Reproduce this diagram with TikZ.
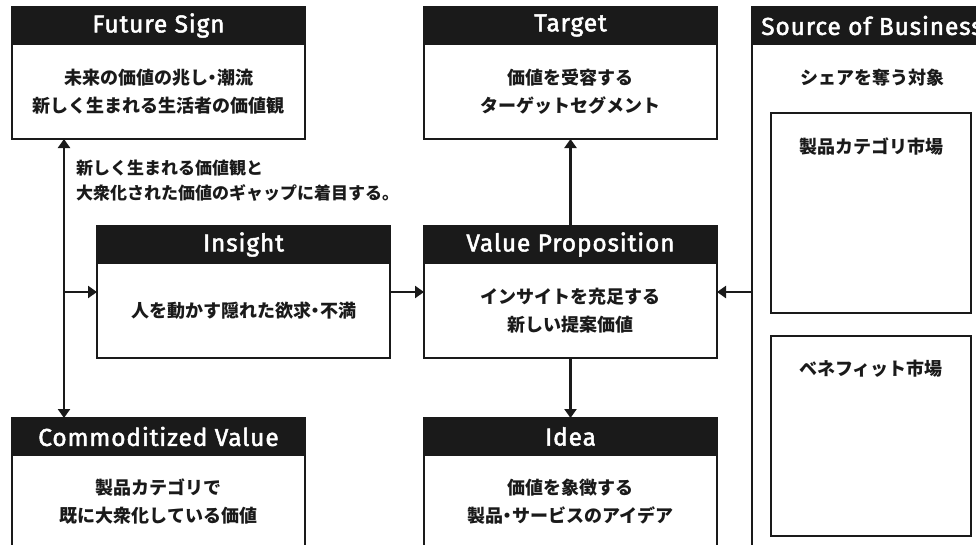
\documentclass[tikz,border=0pt]{standalone}
\usepackage{fontspec}
\setmainfont{Fira Sans}
\newfontfamily\hdrfont{Fira Sans}[FakeBold=2, LetterSpace=3.5]
\newfontfamily\jp{Noto Sans CJK JP}
\newcommand{\nakaguro}{\makebox[9pt][c]{・}}
\usetikzlibrary{arrows.meta,calc}
\definecolor{hdrblack}{HTML}{1A1A1A}
\tikzset{
  box/.style={draw=hdrblack, line width=2.4pt, fill=white, anchor=north west, outer sep=0pt, inner sep=0pt,
              minimum width=293pt, minimum height=132pt},
  hdr/.style={draw=hdrblack, line width=2.4pt, fill=hdrblack, anchor=north west, outer sep=0pt, inner sep=0pt,
              minimum width=293pt, minimum height=37pt, text=white, font=\hdrfont\fontsize{24.5}{26}\selectfont},
  jtxt/.style={font=\jp\bfseries\fontsize{18}{28}\selectfont, align=center, inner sep=0pt, text=hdrblack},
  note/.style={font=\jp\bfseries\fontsize{17}{25}\selectfont, align=left, inner sep=0pt, anchor=west, text=hdrblack},
  arr/.style={draw=hdrblack, line width=2.4pt, -{Triangle[width=12pt,length=9pt]}},
}
\begin{document}
\begin{tikzpicture}[x=1pt,y=-1pt]
\useasboundingbox (0,0) rectangle (976,544);
\clip (0,0) rectangle (976,544);
% Future Sign
\node[box] (fs) at (12,7) {};
\node[hdr] (fsh) at (12,7) {Future Sign};
\node[jtxt] (fst) at (158.5,92) {未来の価値の兆し\nakaguro 潮流\\新しく生まれる生活者の価値観};
% Target
\node[box] (tg) at (424,7) {};
\node[hdr] (tgh) at (424,7) {Target};
\node[jtxt] (tgt) at (570.5,92) {価値を受容する\\ターゲットセグメント};
% Source of Business
\node[box, minimum width=240pt, minimum height=600pt] (sob) at (752,7) {};
\node[hdr, minimum width=240pt] (sobh) at (752,7) {Source of Business};
\node[jtxt] (sobt) at (872,78) {シェアを奪う対象};
\node[box, minimum width=200pt, minimum height=200pt] (cat) at (771,113) {};
\node[jtxt] (catt) at (871,147) {製品カテゴリ市場};
\node[box, minimum width=200pt, minimum height=200pt] (ben) at (771,336) {};
\node[jtxt] (bent) at (871,369) {ベネフィット市場};
% Insight
\node[box] (ins) at (97,226) {};
\node[hdr] (insh) at (97,226) {Insight};
\node[jtxt] (inst) at (243.5,311) {人を動かす隠れた欲求\nakaguro 不満};
% Value Proposition
\node[box] (vp) at (424,226) {};
\node[hdr] (vph) at (424,226) {Value Proposition};
\node[jtxt] (vpt) at (570.5,311) {インサイトを充足する\\新しい提案価値};
% Commoditized Value
\node[box] (cv) at (12,418) {};
\node[hdr] (cvh) at (12,418) {Commoditized Value};
\node[jtxt] (cvt) at (158.5,502) {製品カテゴリで\\既に大衆化している価値};
% Idea
\node[box] (idea) at (424,418) {};
\node[hdr] (ideah) at (424,418) {Idea};
\node[jtxt] (ideat) at (570.5,502) {価値を象徴する\\製品\nakaguro サービスのアイデア};
% note
\node[note] (nt) at (76,180.5) {新しく生まれる価値観と\\大衆化された価値のギャップに着目する。};
% connectors
\coordinate (j) at (64,292);
\draw[arr] (j) -- (j |- fs.south);
\draw[arr] (j) -- (j |- cvh.north);
\draw[arr] (j) -- (ins.west);
\draw[arr] (ins.east) -- (vp.west);
\draw[arr] (vph.north) -- (tg.south);
\draw[arr] (vp.south) -- (ideah.north);
\draw[arr] (sob.west |- vp.east) -- (vp.east);
\end{tikzpicture}
\end{document}
